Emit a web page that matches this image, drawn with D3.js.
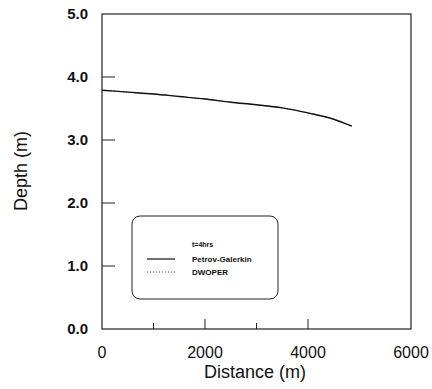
<!DOCTYPE html>
<html>
<head>
<meta charset="utf-8">
<title>Depth vs Distance</title>
<style>
  body { margin: 0; background: #fff; }
  text { font-family: "Liberation Sans", Arial, sans-serif; fill: #111; }
</style>
</head>
<body>
<div class="plot_container"></div>
<script src="https://cdn.jsdelivr.net/npm/d3@7"></script>
<script>
// data
var distance = [0, 500, 1000, 1500, 2000, 2500, 3000, 3500, 4000, 4500, 4850];
var petrov   = [3.79, 3.76, 3.73, 3.69, 3.65, 3.60, 3.56, 3.51, 3.43, 3.33, 3.22];
var dwoper   = [3.79, 3.76, 3.73, 3.69, 3.65, 3.60, 3.56, 3.51, 3.43, 3.33, 3.22];
var xTicks = [0, 2000, 4000, 6000];
var xMinor = [1000, 3000];
var yTicks = [0, 1, 2, 3, 4, 5];

(function(){
var width = 432, height = 389;
var pLeft = 102, pRight = 411, pTop = 14, pBottom = 329;

var svg = d3.select(".plot_container").append("svg")
    .attr("width", width)
    .attr("height", height);

var x = d3.scaleLinear().domain([0, 6000]).range([pLeft, pRight]);
var y = d3.scaleLinear().domain([0, 5]).range([pBottom, pTop]);

// frame
svg.append("rect")
    .attr("x", pLeft).attr("y", pTop)
    .attr("width", pRight - pLeft).attr("height", pBottom - pTop)
    .attr("fill", "none").attr("stroke", "#222").attr("stroke-width", 1.2);

// inward ticks
svg.selectAll(".xtick")
    .data(xTicks.filter(function(d){ return d > 0 && d < 6000; }))
    .enter().append("line")
    .attr("x1", function(d){ return x(d); }).attr("x2", function(d){ return x(d); })
    .attr("y1", pBottom).attr("y2", pBottom - 10)
    .attr("stroke", "#222").attr("stroke-width", 1);
svg.selectAll(".xminor")
    .data(xMinor)
    .enter().append("line")
    .attr("x1", function(d){ return x(d); }).attr("x2", function(d){ return x(d); })
    .attr("y1", pBottom).attr("y2", pBottom - 6)
    .attr("stroke", "#222").attr("stroke-width", 1);
svg.selectAll(".ytick")
    .data(yTicks.filter(function(d){ return d > 0 && d < 5; }))
    .enter().append("line")
    .attr("x1", pLeft).attr("x2", pLeft + 13)
    .attr("y1", function(d){ return y(d); }).attr("y2", function(d){ return y(d); })
    .attr("stroke", "#222").attr("stroke-width", 1);

// tick labels
svg.selectAll(".xlab")
    .data(xTicks)
    .enter().append("text")
    .attr("x", function(d){ return x(d); })
    .attr("y", 358)
    .attr("text-anchor", "middle")
    .attr("font-size", 16)
    .text(function(d){ return d; });
svg.selectAll(".ylab")
    .data(yTicks)
    .enter().append("text")
    .attr("x", 88)
    .attr("y", function(d){ return y(d) + 5; })
    .attr("text-anchor", "end")
    .attr("font-size", 15)
    .attr("font-weight", "bold")
    .text(function(d){ return d.toFixed(1); });

// axis titles
svg.append("text")
    .attr("x", 255).attr("y", 378)
    .attr("text-anchor", "middle").attr("font-size", 18)
    .text("Distance (m)");
svg.append("text")
    .attr("transform", "translate(27,171) rotate(-90)")
    .attr("text-anchor", "middle").attr("font-size", 18)
    .text("Depth (m)");

// curves
var line = d3.line()
    .x(function(d){ return x(d[0]); })
    .y(function(d){ return y(d[1]); })
    .curve(d3.curveMonotoneX);
svg.append("path")
    .datum(d3.zip(distance, dwoper))
    .attr("d", line)
    .attr("fill", "none").attr("stroke", "#444")
    .attr("stroke-width", 1).attr("stroke-dasharray", "1,2");
svg.append("path")
    .datum(d3.zip(distance, petrov))
    .attr("d", line)
    .attr("fill", "none").attr("stroke", "#111").attr("stroke-width", 1.4);

// legend
var lg = svg.append("g");
lg.append("rect")
    .attr("x", 132).attr("y", 216).attr("width", 146).attr("height", 83)
    .attr("rx", 8).attr("ry", 8)
    .attr("fill", "none").attr("stroke", "#222").attr("stroke-width", 1);
lg.append("text").attr("x", 192).attr("y", 247)
    .attr("font-size", 7).attr("font-weight", "bold").text("t=4hrs");
lg.append("line").attr("x1", 147).attr("x2", 175).attr("y1", 259).attr("y2", 259)
    .attr("stroke", "#111").attr("stroke-width", 1.2);
lg.append("text").attr("x", 192).attr("y", 262)
    .attr("font-size", 8).attr("font-weight", "bold").text("Petrov-Galerkin");
lg.append("line").attr("x1", 147).attr("x2", 175).attr("y1", 272).attr("y2", 272)
    .attr("stroke", "#444").attr("stroke-width", 1).attr("stroke-dasharray", "1,2");
lg.append("text").attr("x", 192).attr("y", 275)
    .attr("font-size", 8).attr("font-weight", "bold").text("DWOPER");
})();
</script>
</body>
</html>
